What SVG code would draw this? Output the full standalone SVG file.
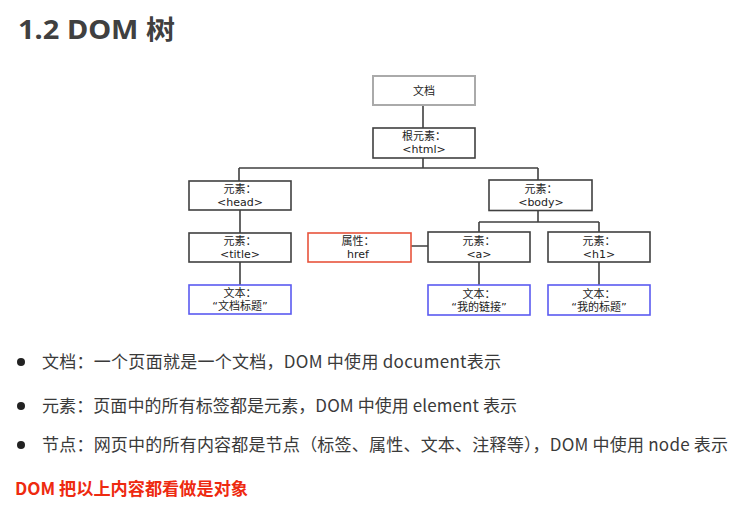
<svg xmlns="http://www.w3.org/2000/svg" width="752" height="508" viewBox="0 0 752 508">
<style>
.box{fill:#fff;stroke:#404040;stroke-width:1.6}
.gray{stroke:#aaaaaa;stroke-width:2}
.red{stroke:#e8543c;stroke-width:1.6}
.blue{stroke:#5b5bf0;stroke-width:1.6}
.lbl{font-family:"DejaVu Sans","Noto Sans CJK SC",sans-serif;font-size:11px;fill:#222;text-anchor:middle}
.con{stroke:#404040;stroke-width:1.6;fill:none}
.body{font-family:"Noto Sans CJK SC","Liberation Sans",sans-serif;font-size:17px;fill:#3a3a3a}
</style>
<rect width="752" height="508" fill="#fff"/>
<text x="18" y="39" font-family="'Noto Sans','Noto Sans CJK SC',sans-serif" font-size="26" font-weight="bold" fill="#404040" textLength="157" lengthAdjust="spacingAndGlyphs">1.2 DOM 树</text>
<g id="connectors">
<path class="con" d="M423 105V128M423 158V168M239 168H538M239 168V181M538 168V180M240 210V233M240 262V285M538 211V222M479 222H599M479 222V232M599 222V232M479 262V285M599 262V285M411 246H428"/>
</g>
<g id="doc"><rect class="box gray" x="373" y="76" width="102" height="29"/><text class="lbl" x="424" y="94.5">文档</text></g>
<g id="html"><rect class="box" x="373" y="128" width="102" height="30"/><text class="lbl" x="424" y="140">根元素：</text><text class="lbl" x="424" y="153">&lt;html&gt;</text></g>
<g id="head"><rect class="box" x="189" y="181" width="102" height="29"/><text class="lbl" x="240" y="193">元素：</text><text class="lbl" x="240" y="206">&lt;head&gt;</text></g>
<g id="title"><rect class="box" x="189" y="233" width="102" height="29"/><text class="lbl" x="240" y="245">元素：</text><text class="lbl" x="240" y="258">&lt;title&gt;</text></g>
<g id="titletext"><rect class="box blue" x="189" y="285" width="102" height="29"/><text class="lbl" x="240" y="297">文本：</text><text class="lbl" x="240" y="310">“文档标题”</text></g>
<g id="body"><rect class="box" x="489" y="180" width="103" height="30.5"/><text class="lbl" x="541" y="192.5">元素：</text><text class="lbl" x="541" y="206">&lt;body&gt;</text></g>
<g id="href"><rect class="box red" x="308" y="233" width="103" height="29"/><text class="lbl" x="358" y="245">属性：</text><text class="lbl" x="358" y="258">href</text></g>
<g id="a"><rect class="box" x="428" y="232" width="102" height="30"/><text class="lbl" x="479" y="244.5">元素：</text><text class="lbl" x="479" y="258">&lt;a&gt;</text></g>
<g id="h1"><rect class="box" x="548" y="232" width="102" height="30"/><text class="lbl" x="599" y="244.5">元素：</text><text class="lbl" x="599" y="258">&lt;h1&gt;</text></g>
<g id="atext"><rect class="box blue" x="428" y="285" width="102" height="30"/><text class="lbl" x="479" y="297.5">文本：</text><text class="lbl" x="479" y="311">“我的链接”</text></g>
<g id="h1text"><rect class="box blue" x="548" y="285" width="102" height="30"/><text class="lbl" x="599" y="297.5">文本：</text><text class="lbl" x="599" y="311">“我的标题”</text></g>
<g id="bullets">
<circle cx="21" cy="362" r="4" fill="#222"/>
<circle cx="21" cy="406" r="4" fill="#222"/>
<circle cx="21" cy="445" r="4" fill="#222"/>
<text class="body" x="42" y="368" textLength="459" lengthAdjust="spacing">文档：一个页面就是一个文档，DOM 中使用 document表示</text>
<text class="body" x="42" y="412" textLength="475" lengthAdjust="spacing">元素：页面中的所有标签都是元素，DOM 中使用 element 表示</text>
<text class="body" x="42" y="451" textLength="686" lengthAdjust="spacing">节点：网页中的所有内容都是节点（标签、属性、文本、注释等），DOM 中使用 node 表示</text>
<text x="15" y="495" font-family="'Noto Sans CJK SC',sans-serif" font-size="17" font-weight="bold" fill="#ee2a10" textLength="233" lengthAdjust="spacingAndGlyphs">DOM 把以上内容都看做是对象</text>
</g>
</svg>
